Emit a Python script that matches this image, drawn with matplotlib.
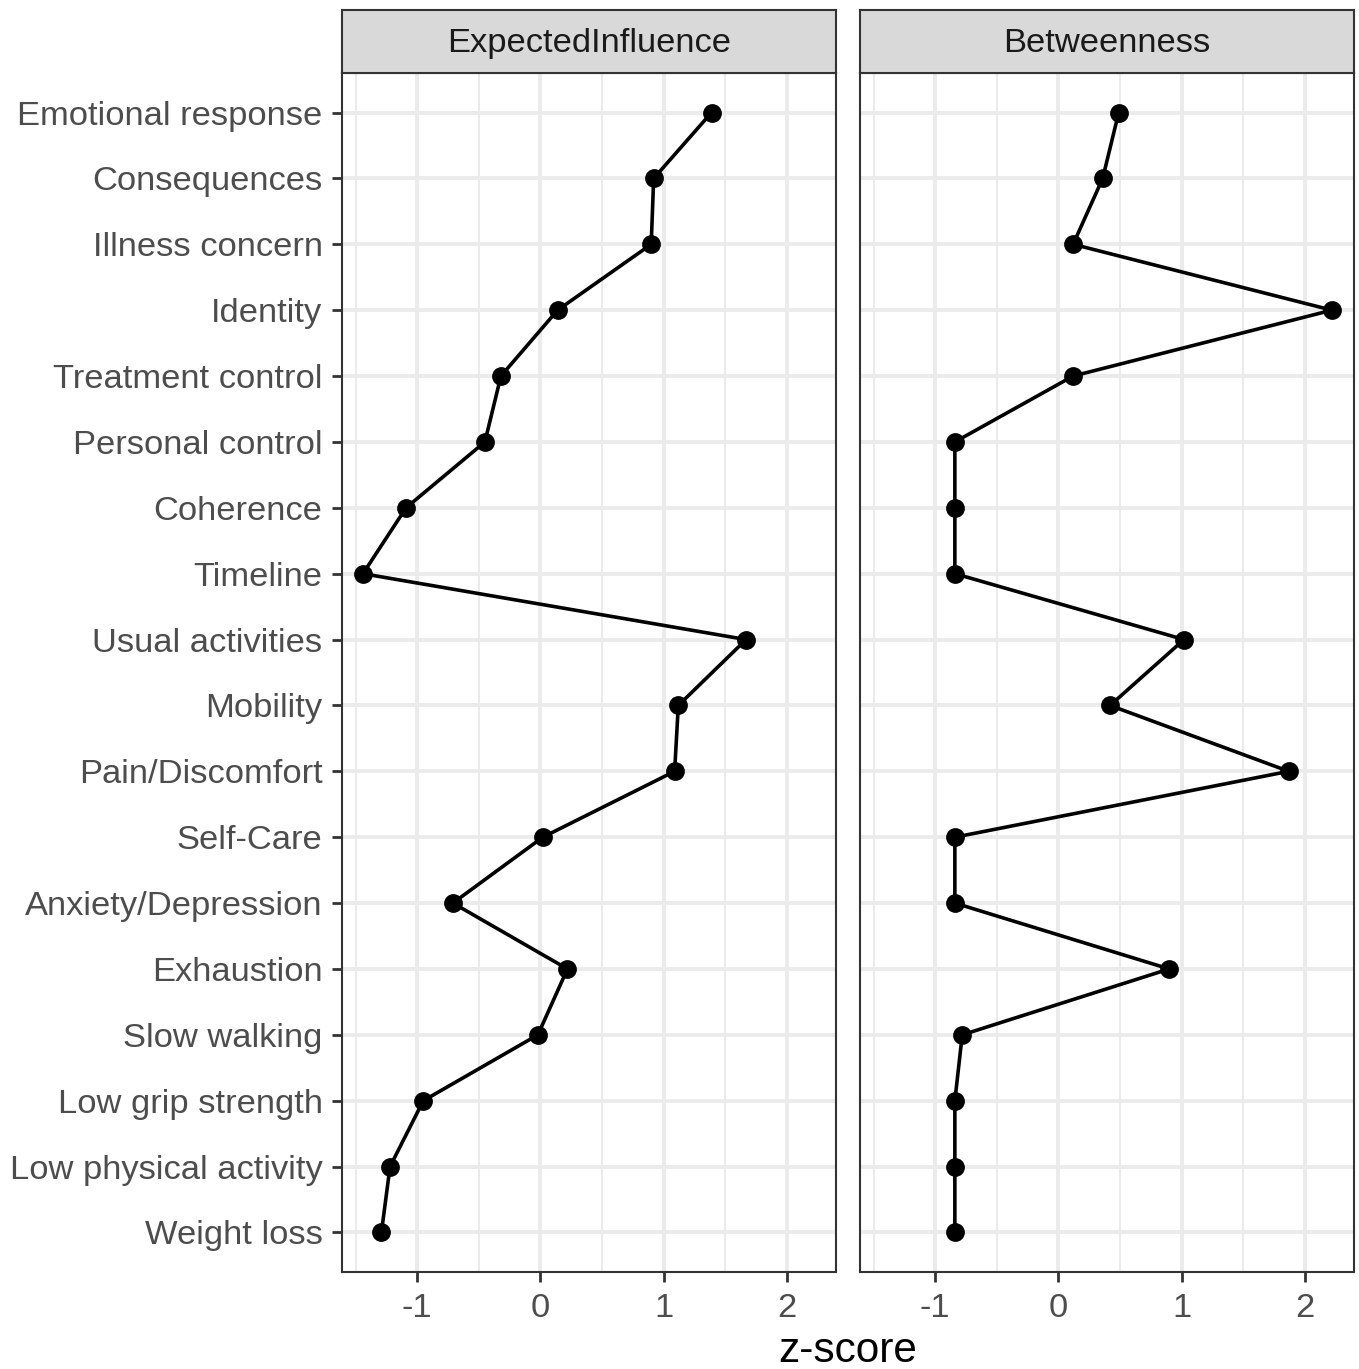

# Centrality plot: expected influence and betweenness z-scores per node
import matplotlib.pyplot as plt
import numpy as np

plt.rcParams['font.family'] = ['Liberation Sans', 'DejaVu Sans']

nodes = ["Emotional response", "Consequences", "Illness concern", "Identity",
         "Treatment control", "Personal control", "Coherence", "Timeline",
         "Usual activities", "Mobility", "Pain/Discomfort", "Self-Care",
         "Anxiety/Depression", "Exhaustion", "Slow walking", "Low grip strength",
         "Low physical activity", "Weight loss"]

expected_influence = [1.39, 0.92, 0.90, 0.14, -0.32, -0.45, -1.09, -1.44,
                      1.67, 1.12, 1.09, 0.02, -0.71, 0.22, -0.02, -0.95,
                      -1.22, -1.29]

betweenness = [0.49, 0.36, 0.12, 2.22, 0.12, -0.84, -0.84, -0.84,
               1.02, 0.42, 1.87, -0.84, -0.84, 0.90, -0.78, -0.84,
               -0.84, -0.84]

panels = [("ExpectedInfluence", expected_influence),
          ("Betweenness", betweenness)]

W, H = 1359, 1369
fig = plt.figure(figsize=(W / 100, H / 100), dpi=100)

ypos = np.arange(len(nodes))[::-1] + 1
panel_left = [342, 860]
panel_w = 494
top, bottom = 73, 1272

for i, (title, vals) in enumerate(panels):
    x0 = panel_left[i]
    ax = fig.add_axes([x0 / W, 1 - bottom / H, panel_w / W, (bottom - top) / H])
    ax.set_xlim(-1.61, 2.40)
    ax.set_ylim(0.4, len(nodes) + 0.6)

    # grid like theme_bw
    for v in [-1.5, -0.5, 0.5, 1.5]:
        ax.axvline(v, color="#EBEBEB", lw=1.4, zorder=0)
    for v in [-1, 0, 1, 2]:
        ax.axvline(v, color="#EBEBEB", lw=2.8, zorder=0)
    for y in ypos:
        ax.axhline(y, color="#EBEBEB", lw=2.8, zorder=0)

    ax.plot(vals, ypos, color="black", lw=2.6, marker="o", markersize=12.5, zorder=3)

    ax.set_xticks([-1, 0, 1, 2])
    ax.set_xticklabels(["-1", "0", "1", "2"])
    ax.set_yticks(ypos)
    if i == 0:
        ax.set_yticklabels(nodes)
        ax.tick_params(axis="y", length=7, width=2, color="#333333",
                       labelsize=24.8, labelcolor="#4D4D4D", pad=7)
    else:
        ax.set_yticklabels([])
        ax.tick_params(axis="y", length=0)
    ax.tick_params(axis="x", length=7, width=2, color="#333333",
                   labelsize=24.8, labelcolor="#4D4D4D", pad=8)
    for s in ax.spines.values():
        s.set_color("#333333")
        s.set_linewidth(1.5)

    # facet strip
    sax = fig.add_axes([x0 / W, 1 - top / H, panel_w / W, 63 / H])
    sax.set_facecolor("#D9D9D9")
    sax.set_xticks([])
    sax.set_yticks([])
    for s in sax.spines.values():
        s.set_color("#333333")
        s.set_linewidth(1.5)
    sax.text(0.5, 0.47, title, ha="center", va="center", fontsize=24.8,
             color="#1A1A1A", transform=sax.transAxes)

fig.text(848 / W, 1 - 1351 / H, "z-score", ha="center", va="center",
         fontsize=30.5, color="black")

fig.savefig("out.png", dpi=100)
